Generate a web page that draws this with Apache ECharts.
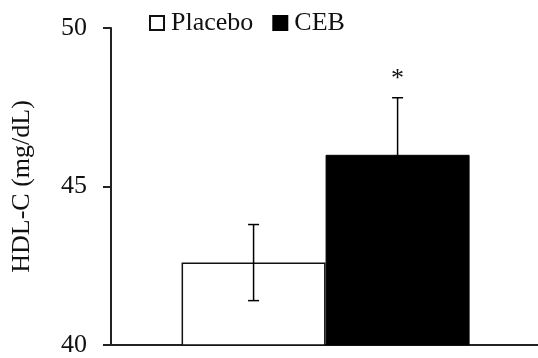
<!DOCTYPE html>
<html>
<head>
<meta charset="utf-8">
<script src="https://cdn.jsdelivr.net/npm/echarts@6/dist/echarts.min.js"></script>
<style>html,body{margin:0;padding:0;background:#fff;}#c{width:538px;height:358px;}</style>
</head>
<body>
<div id="c"></div>
<script>
var categories = ['Placebo', 'CEB'];
var means = [42.6, 46.0];
var errors = [1.2, 1.8];
var significance = ['', '*'];
var yTicks = [40, 45, 50];

var FONT = 'Liberation Serif';
var chart = echarts.init(document.getElementById('c'));

var barStyles = [
  {color: '#ffffff', borderColor: '#111', borderWidth: 1.5},
  {color: '#000000', borderColor: '#000', borderWidth: 1}
];

var series = categories.map(function (name, i) {
  return {
    name: name,
    type: 'bar',
    stack: 'grp',
    barWidth: 144,
    itemStyle: barStyles[i],
    data: [[i + 1, means[i]]],
    z: 2
  };
});

series.push({
  type: 'custom',
  z: 5,
  data: categories.map(function (n, i) {
    return [i + 1, means[i] - errors[i], means[i] + errors[i], significance[i]];
  }),
  renderItem: function (params, api) {
    var x = api.value(0);
    var lo = api.coord([x, api.value(1)]);
    var hi = api.coord([x, api.value(2)]);
    var lbl = api.value(3);
    var cap = 5.5;
    var st = {stroke: '#000', lineWidth: 1.5};
    var children = [
      {type: 'line', shape: {x1: lo[0], y1: lo[1], x2: hi[0], y2: hi[1]}, style: st},
      {type: 'line', shape: {x1: hi[0] - cap, y1: hi[1], x2: hi[0] + cap, y2: hi[1]}, style: st},
      {type: 'line', shape: {x1: lo[0] - cap, y1: lo[1], x2: lo[0] + cap, y2: lo[1]}, style: st}
    ];
    if (lbl) {
      children.push({
        type: 'text',
        style: {
          text: lbl, x: hi[0], y: hi[1] - 19,
          align: 'center', verticalAlign: 'middle',
          fontFamily: FONT, fontSize: 26, fill: '#111'
        }
      });
    }
    return {type: 'group', children: children};
  }
});

chart.setOption({
  animation: false,
  backgroundColor: '#fff',
  grid: {left: 111, right: 0, top: 28, bottom: 9},
  legend: {
    data: categories,
    left: 144,
    top: 5,
    icon: 'rect',
    itemWidth: 14,
    itemHeight: 14,
    itemGap: 19,
    textStyle: {fontFamily: FONT, fontSize: 26, color: '#111', padding: [0, 0, 0, 2]}
  },
  xAxis: {
    type: 'value',
    min: 0.01,
    max: 2.975,
    axisLine: {show: true, onZero: false, lineStyle: {color: '#222', width: 2}},
    axisTick: {show: false},
    axisLabel: {show: false},
    splitLine: {show: false}
  },
  yAxis: {
    type: 'value',
    min: yTicks[0],
    max: yTicks[yTicks.length - 1],
    interval: yTicks[1] - yTicks[0],
    name: 'HDL-C (mg/dL)',
    nameLocation: 'middle',
    nameGap: 76,
    nameTextStyle: {fontFamily: FONT, fontSize: 26, color: '#111'},
    axisLine: {show: true, lineStyle: {color: '#222', width: 2}},
    axisTick: {show: true, inside: false, length: 8, lineStyle: {color: '#222', width: 2}},
    axisLabel: {fontFamily: FONT, fontSize: 26, color: '#111', margin: 24},
    splitLine: {show: false}
  },
  series: series
});
</script>
</body>
</html>
